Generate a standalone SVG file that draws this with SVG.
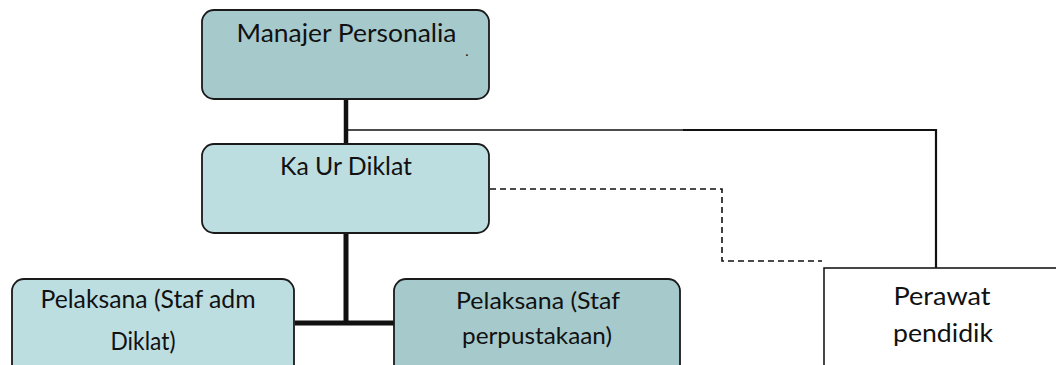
<svg xmlns="http://www.w3.org/2000/svg" width="1056" height="365" viewBox="0 0 1056 365">
  <style>
    .box { stroke: #1a1a1a; stroke-width: 1.8; }
    .dark { fill: #a6c9cc; }
    .light { fill: #bddee1; }
    .plain { fill: #ffffff; stroke: #1a1a1a; stroke-width: 1.6; }
    .lbl { font-family: Lato, "Open Sans", "Liberation Sans", sans-serif; font-size: 25px; fill: #111; text-anchor: middle; }
    .thick { stroke: #111; stroke-width: 4.5; fill: none; }
    .thin { stroke: #111; stroke-width: 1.5; fill: none; }
    .mid { stroke: #111; stroke-width: 2.2; fill: none; }
    .dash { stroke: #111; stroke-width: 1.6; fill: none; stroke-dasharray: 6 4; }
  </style>
  <rect width="1056" height="365" fill="#ffffff"/>
  <g id="connectors">
    <line class="thick" x1="346" y1="99" x2="346" y2="144"/>
    <line class="thin" x1="346" y1="130" x2="684" y2="130"/>
    <polyline class="mid" points="683,130 936,130 936,268"/>
    <polyline class="dash" points="490,189 722,189 722,261 822,261"/>
    <line class="thick" x1="346" y1="233" x2="346" y2="323" style="stroke-width:5"/>
    <line class="thick" x1="295" y1="323" x2="394" y2="323" style="stroke-width:5"/>
  </g>
  <g id="manajer">
    <rect class="box dark" x="202" y="10" width="287" height="89" rx="12"/>
    <text class="lbl" x="346.5" y="42" textLength="220" lengthAdjust="spacingAndGlyphs">Manajer Personalia</text>
    <text class="lbl" x="467" y="56" style="font-size:14px">.</text>
  </g>
  <g id="kaur">
    <rect class="box light" x="202" y="144" width="287" height="89" rx="12"/>
    <text class="lbl" x="346" y="175" textLength="132" lengthAdjust="spacingAndGlyphs">Ka Ur Diklat</text>
  </g>
  <g id="pelaksana1">
    <rect class="box light" x="12" y="279" width="282" height="110" rx="12"/>
    <text class="lbl" x="148" y="308" textLength="215" lengthAdjust="spacingAndGlyphs">Pelaksana (Staf adm</text>
    <text class="lbl" x="143" y="350" textLength="65" lengthAdjust="spacingAndGlyphs">Diklat)</text>
  </g>
  <g id="pelaksana2">
    <rect class="box dark" x="394" y="279" width="286" height="110" rx="12"/>
    <text class="lbl" x="538" y="309" style="font-size:23px" textLength="164" lengthAdjust="spacingAndGlyphs">Pelaksana (Staf</text>
    <text class="lbl" x="537" y="344" style="font-size:23px" textLength="150" lengthAdjust="spacingAndGlyphs">perpustakaan)</text>
  </g>
  <g id="perawat">
    <rect class="plain" x="824" y="268" width="250" height="120"/>
    <text class="lbl" x="942" y="305" textLength="97" lengthAdjust="spacingAndGlyphs">Perawat</text>
    <text class="lbl" x="943" y="342" textLength="100" lengthAdjust="spacingAndGlyphs">pendidik</text>
  </g>
</svg>
